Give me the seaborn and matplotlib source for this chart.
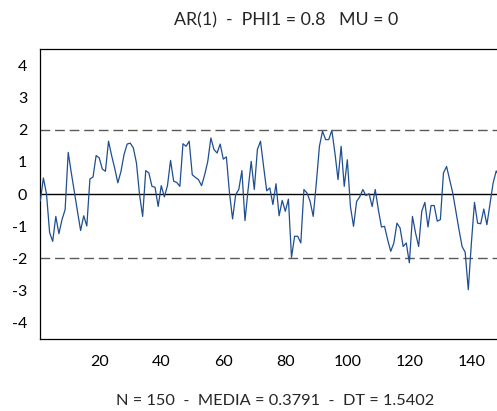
import numpy as np
import pandas as pd
import matplotlib
matplotlib.use("Agg")
import matplotlib.pyplot as plt
import seaborn as sns

values = [
    -0.22, 0.50, 0.00, -1.20, -1.48, -0.70, -1.24, -0.80, -0.49, 1.30,
    0.66, 0.05, -0.55, -1.14, -0.68, -1.00, 0.47, 0.53, 1.20, 1.13,
    0.78, 0.71, 1.65, 1.20, 0.80, 0.35, 0.70, 1.23, 1.56, 1.59,
    1.44, 0.97, -0.02, -0.70, 0.73, 0.66, 0.24, 0.21, -0.39, 0.26,
    -0.09, 0.26, 1.05, 0.40, 0.36, 0.24, 1.57, 1.49, 1.65, 0.60,
    0.52, 0.45, 0.26, 0.60, 1.02, 1.75, 1.39, 1.28, 1.56, 1.09,
    1.16, 0.03, -0.78, -0.02, 0.14, 0.73, -0.83, 0.14, 1.02, 0.14,
    1.39, 1.65, 0.86, 0.10, 0.19, -0.33, 0.32, -0.68, -0.20, -0.54,
    -0.16, -1.98, -1.32, -1.32, -1.53, 0.14, 0.03, -0.23, -0.70, 0.34,
    1.49, 1.96, 1.70, 1.70, 1.99, 1.28, 0.45, 1.49, 0.24, 1.07,
    -0.39, -1.01, -0.23, -0.09, 0.14, -0.05, 0.01, -0.39, 0.14, -0.49,
    -1.03, -1.01, -1.43, -1.79, -1.53, -0.91, -1.06, -1.64, -1.53, -2.15,
    -0.70, -1.22, -1.64, -0.54, -0.26, -1.03, -0.36, -0.36, -0.85, -0.80,
    0.66, 0.86, 0.45, 0.03, -0.55, -1.11, -1.64, -1.82, -2.99, -1.53,
    -0.26, -0.91, -0.93, -0.47, -0.96, -0.30, 0.34, 0.72, 0.55, 0.40,
]
t = list(range(1, len(values) + 1))
x_ticks = [20, 40, 60, 80, 100, 120, 140]
y_ticks = [4, 3, 2, 1, 0, -1, -2, -3, -4]
ref_levels = [2, -2]
title_text = "AR(1)  -  PHI1 = 0.8   MU = 0"
footer_text = "N = 150  -  MEDIA = 0.3791  -  DT = 1.5402"

sns.set_style("white")
plt.rcParams["font.family"] = ["Lato", "DejaVu Sans"]
plt.rcParams["axes.unicode_minus"] = False

df = pd.DataFrame({"t": t, "y": values})

fig = plt.figure(figsize=(4.97, 4.11), dpi=100)
ax = fig.add_axes([40.3 / 497, 72 / 411, 462.1 / 497, 290 / 411])

ax.axhline(0, color="black", lw=1.0, zorder=1)
for lv in ref_levels:
    ax.axhline(lv, color="#5a5a5a", lw=1.0, dashes=(7, 3.5), zorder=1)

sns.lineplot(data=df, x="t", y="y", ax=ax, color="#1F4E91", lw=0.9, zorder=3)

ax.set_xlim(1, 150)
ax.set_ylim(-4.53, 4.53)
ax.set_xticks(x_ticks)
ax.set_yticks(y_ticks)
ax.set_yticklabels([str(v) for v in y_ticks])
ax.set_xlabel("")
ax.set_ylabel("")
ax.tick_params(axis="both", direction="out", length=4.5, width=0.8, color="#808080",
               labelsize=11.5, labelcolor="black", pad=5)
ax.tick_params(axis="x", pad=7)
for s in ["left", "top", "bottom", "right"]:
    ax.spines[s].set_color("black")
    ax.spines[s].set_linewidth(0.9)

fig.text(286 / 497, 1 - 20 / 411, title_text, ha="center", va="center", fontsize=12.8)
fig.text(275 / 497, 1 - 401 / 411, footer_text, ha="center", va="center", fontsize=11.8)

fig.savefig("out.png", dpi=100)
